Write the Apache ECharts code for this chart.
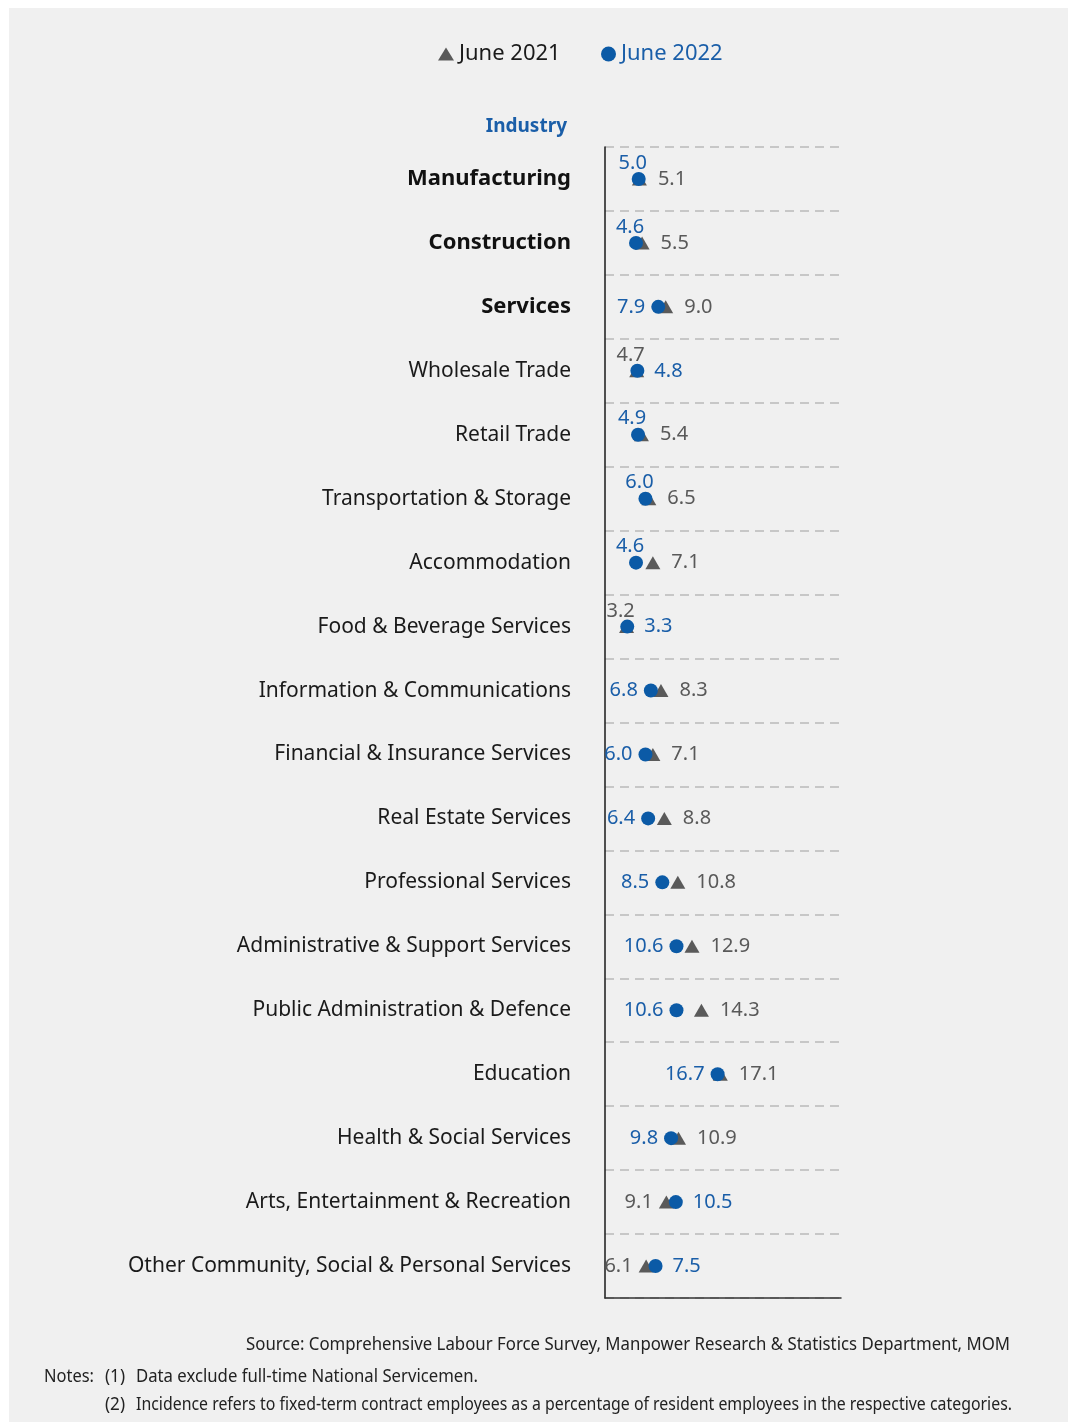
<!DOCTYPE html>
<html>
<head>
<meta charset="utf-8">
<title>Incidence of fixed-term contract employees by industry</title>
<script src="https://cdn.jsdelivr.net/npm/echarts@6/dist/echarts.min.js"></script>
<style>
  html, body { margin: 0; padding: 0; background: #ffffff; }
  #chart { width: 1068px; height: 1422px; }
</style>
</head>
<body>
<div id="chart"></div>
<script>
// Industries, top to bottom
const categories = [
  'Manufacturing',
  'Construction',
  'Services',
  'Wholesale Trade',
  'Retail Trade',
  'Transportation & Storage',
  'Accommodation',
  'Food & Beverage Services',
  'Information & Communications',
  'Financial & Insurance Services',
  'Real Estate Services',
  'Professional Services',
  'Administrative & Support Services',
  'Public Administration & Defence',
  'Education',
  'Health & Social Services',
  'Arts, Entertainment & Recreation',
  'Other Community, Social & Personal Services'
];

// Incidence (%) of fixed-term contract employees
const june2021 = [5.1, 5.5, 9.0, 4.7, 5.4, 6.5, 7.1, 3.2, 8.3, 7.1, 8.8, 10.8, 12.9, 14.3, 17.1, 10.9, 9.1, 6.1];
const june2022 = [5.0, 4.6, 7.9, 4.8, 4.9, 6.0, 4.6, 3.3, 6.8, 6.0, 6.4, 8.5, 10.6, 10.6, 16.7, 9.8, 10.5, 7.5];

const seriesNames = ['June 2021', 'June 2022'];

// Broad sectors drawn in bold
const boldCategories = ['Manufacturing', 'Construction', 'Services'];
// Rows where the lower value's label sits above the marks instead of beside them
const stackedLabelRows = [
  'Manufacturing', 'Construction', 'Wholesale Trade', 'Retail Trade',
  'Transportation & Storage', 'Accommodation', 'Food & Beverage Services'
];

const BLUE = '#0b5aa6';
const BLUE_TEXT = '#1a5ea8';
const GREY = '#5a5a5a';
const GREY_TEXT = '#595959';
const FONT = '"Noto Sans", "Open Sans", sans-serif';

function buildPoints(values, others, textColor, leftDistance, rightDistance) {
  return values.map(function (v, i) {
    const onLeft = v < others[i];
    let label;
    if (onLeft && stackedLabelRows.indexOf(categories[i]) >= 0) {
      label = { position: 'top', distance: 0, offset: [-6, 1] };
    } else if (onLeft) {
      label = { position: 'left', distance: leftDistance };
    } else {
      label = { position: 'right', distance: rightDistance };
    }
    label.show = true;
    label.color = textColor;
    label.fontSize = 20;
    label.lineHeight = 20;
    label.fontFamily = FONT;
    label.formatter = function (p) { return p.value[0].toFixed(1); };
    return { value: [v, categories[i]], label: label };
  });
}

// Fit a line of text to a given width by measuring it and squeezing horizontally
const measureCtx = document.createElement('canvas').getContext('2d');
function squeezed(text, font, width) {
  measureCtx.font = font;
  return width / measureCtx.measureText(text).width;
}

const NOTE_FONT_SIZE = 18;
const NOTE_FONT = NOTE_FONT_SIZE + 'px "Noto Sans"';
const noteLines = [
  { text: 'Source: Comprehensive Labour Force Survey, Manpower Research & Statistics Department, MOM', x: 1010, y: 1345, w: 764, align: 'right' },
  { text: 'Notes:', x: 44, y: 1377, w: 50, align: 'left' },
  { text: '(1)', x: 105, y: 1377, w: 20, align: 'left' },
  { text: 'Data exclude full-time National Servicemen.', x: 136, y: 1377, w: 342, align: 'left' },
  { text: '(2)', x: 105, y: 1405, w: 20, align: 'left' },
  { text: 'Incidence refers to fixed-term contract employees as a percentage of resident employees in the respective categories.', x: 136, y: 1405, w: 876, align: 'left' }
];

const graphics = [
  {
    type: 'rect', z: -10, silent: true,
    shape: { x: 9, y: 8, width: 1068 - 9, height: 1422 - 8 },
    style: { fill: '#f0f0f0' }
  },
  {
    type: 'text', x: 567, y: 127,
    style: {
      text: 'Industry', fill: BLUE_TEXT,
      font: 'bold 19px "Noto Sans", sans-serif',
      textAlign: 'right', textVerticalAlign: 'middle'
    }
  }
].concat(noteLines.map(function (n) {
  return {
    type: 'text', x: n.x, y: n.y,
    scaleX: squeezed(n.text, NOTE_FONT, n.w),
    style: {
      text: n.text, fill: '#222222', font: NOTE_FONT,
      textAlign: n.align, textVerticalAlign: 'middle'
    }
  };
}));

const chart = echarts.init(document.getElementById('chart'), null, { renderer: 'canvas' });

chart.setOption({
  backgroundColor: 'transparent',
  animation: false,
  textStyle: { fontFamily: FONT },
  graphic: graphics,
  legend: [
    {
      data: [{ name: seriesNames[0], icon: 'triangle' }],
      left: 438, top: 42, padding: 0,
      itemWidth: 16, itemHeight: 13,
      textStyle: { color: '#1a1a1a', fontSize: 22, fontFamily: FONT, lineHeight: 24 },
      selectedMode: false
    },
    {
      data: [{ name: seriesNames[1], icon: 'circle' }],
      left: 601, top: 42, padding: 0,
      itemWidth: 15, itemHeight: 15,
      textStyle: { color: BLUE_TEXT, fontSize: 22, fontFamily: FONT, lineHeight: 24 },
      selectedMode: false
    }
  ],
  grid: { left: 605, top: 147, width: 236, height: 1151, containLabel: false },
  xAxis: {
    type: 'value', min: 0, max: 35,
    axisLine: { show: true, onZero: false, lineStyle: { color: '#333333', width: 1.5 } },
    axisTick: { show: false },
    axisLabel: { show: false },
    splitLine: { show: false }
  },
  yAxis: {
    type: 'category',
    inverse: true,
    data: categories,
    axisLine: { show: true, lineStyle: { color: '#1a1a1a', width: 1.5 } },
    axisTick: { show: false },
    axisLabel: {
      margin: 34,
      color: '#1a1a1a',
      fontSize: 21,
      fontFamily: FONT,
      formatter: function (name) {
        return boldCategories.indexOf(name) >= 0 ? '{b|' + name + '}' : '{n|' + name + '}';
      },
      rich: {
        b: { fontWeight: 'bold', fontSize: 22, color: '#111111', fontFamily: FONT },
        n: { fontSize: 21, color: '#1a1a1a', fontFamily: FONT }
      }
    },
    splitLine: {
      show: true,
      lineStyle: { color: '#b9b9b9', width: 1.5, type: [9, 6] }
    }
  },
  series: [
    {
      name: seriesNames[0],
      type: 'scatter',
      symbol: 'triangle',
      symbolSize: [15, 13],
      itemStyle: { color: GREY, opacity: 1 },
      data: buildPoints(june2021, june2022, GREY_TEXT, 6, 11)
    },
    {
      name: seriesNames[1],
      type: 'scatter',
      symbol: 'circle',
      symbolSize: 14,
      itemStyle: { color: BLUE, opacity: 1 },
      data: buildPoints(june2022, june2021, BLUE_TEXT, 6, 10)
    }
  ]
});
</script>
</body>
</html>
